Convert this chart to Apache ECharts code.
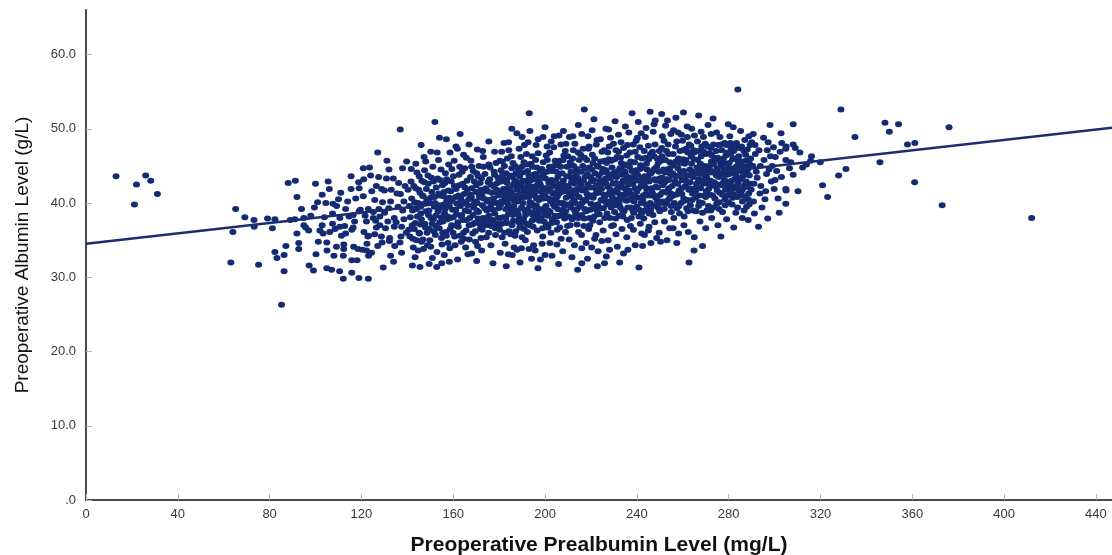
<!DOCTYPE html>
<html>
<head>
<meta charset="utf-8">
<title>Preoperative Prealbumin vs Albumin</title>
<script src="https://cdn.jsdelivr.net/npm/echarts@6/dist/echarts.min.js"></script>
<style>
  html, body { margin: 0; padding: 0; background: #ffffff; }
  #chart { width: 1112px; height: 555px; }
</style>
</head>
<body>
<div id="chart"></div>
<script>
// Axis tick labels
const xTickLabels = ['0', '40', '80', '120', '160', '200', '240', '280', '320', '360', '400', '440'];
const yTickLabels = ['.0', '10.0', '20.0', '30.0', '40.0', '50.0', '60.0'];

// Patients: [prealbumin mg/L, albumin g/L]
const lowPrealbumin = [
  [13.1,43.6],[22.0,42.5],[21.1,39.8],[26.0,43.7],[28.2,43.0],[31.1,41.2],[63.1,32.0],[64.0,36.1],
  [65.2,39.2],[69.2,38.1],[73.2,37.7],[73.3,36.8],[75.2,31.7],[79.1,37.9],[81.2,36.6],[82.3,37.8],
  [82.3,33.4],[83.2,32.6],[85.2,26.3],[86.3,33.0],[86.3,30.8],[87.1,34.2],[88.1,42.7],[91.2,43.0],
  [89.0,37.7],[91.0,37.8],[91.9,40.8],[91.9,35.9],[92.7,34.6],[92.7,33.8]
];

const prealbumin95to140 = [
  [93.9,39.2],[94.9,38.0],[97.9,38.3],[94.9,37.0],[95.7,36.7],[102.9,41.1],[100.9,40.1],[107.6,39.9],
  [109.2,39.6],[114.0,40.2],[120.8,40.9],[125.8,40.4],[132.7,40.2],[138.5,40.2],[113.1,39.2],[119.5,39.1],
  [123.0,39.2],[127.6,39.2],[103.9,38.1],[107.4,38.6],[110.6,38.0],[116.4,38.4],[119.0,38.9],[125.2,38.8],
  [128.0,38.2],[130.1,38.7],[134.3,38.0],[138.5,37.8],[102.9,37.0],[101.9,36.3],[107.4,37.2],[110.6,36.8],
  [112.7,36.9],[116.4,36.7],[122.2,37.5],[125.1,38.0],[128.0,37.0],[130.5,36.6],[134.3,36.8],[137.5,36.8],
  [103.3,35.9],[106.2,36.1],[111.3,35.6],[113.1,35.9],[115.8,36.4],[121.1,36.1],[122.8,35.5],[125.8,35.8],
  [128.7,35.5],[132.3,35.3],[137.2,35.5],[101.2,34.8],[104.9,34.7],[109.1,34.1],[112.3,34.4],[112.3,33.8],
  [116.6,34.1],[118.5,33.8],[120.4,33.7],[122.4,34.5],[123.1,35.6],[124.4,33.3],[127.1,34.2],[129.0,34.7],
  [132.2,34.9],[134.5,34.2],[136.8,34.7],[100.2,33.1],[108.0,32.9],[112.1,32.9],[115.8,32.3],[118.1,32.3],
  [122.2,33.6],[123.1,32.9],[132.7,32.9],[97.2,31.6],[99.1,30.9],[104.9,31.2],[107.0,31.0],[115.8,30.6],
  [112.1,29.8],[118.9,29.9],[123.0,29.8],[136.9,49.9],[127.1,46.8],[131.1,45.7],[120.8,44.7],[137.9,44.7],
  [118.8,42.8],[121.0,43.2],[124.0,43.7],[127.5,43.5],[130.9,43.3],[133.9,43.3],[136.2,42.7],[128.8,41.9],
  [130.0,41.7],[99.5,39.4],[104.5,40.0],[106.0,41.9],[111.0,41.4],[115.5,41.9],[117.5,40.6],[119.0,42.0],
  [124.5,41.6],[126.5,42.3],[133.0,41.8],[135.5,41.3],[139.0,42.3],[136.0,39.5],[131.5,37.5],[117.0,37.5],
  [108.5,36.5],[126.5,36.7],[139.5,36.0],[110.0,40.5],[123.5,44.8],[132.0,44.5],[139.7,45.6],[115.5,43.6],
  [105.5,42.9],[100.0,42.6],[97.0,36.3],[134.0,32.1],[129.5,31.3],[137.5,33.3],[105.0,33.6],[110.5,30.8],
  [121.6,38.3],[129.2,40.1],[135.1,37.4],[138.0,39.0],[126.2,37.6],[114.6,38.2],[131.9,39.3],[137.0,41.2]
];

const prealbumin140to180 = [
  [140.6,36.4],[141.3,38.1],[141.9,40.6],[142.4,35.2],[142.8,42.3],[143.5,37.3],[143.9,39.2],[144.2,44.1],
  [144.7,33.6],[145.1,36.0],[145.5,41.4],[145.9,38.6],[146.3,43.0],[146.8,35.1],[147.2,39.9],[147.6,37.2],
  [148.0,45.6],[148.3,41.9],[148.8,34.3],[149.2,38.4],[149.6,36.5],[150.1,40.7],[150.5,43.4],[150.9,32.6],
  [151.3,37.8],[151.8,39.5],[152.2,35.7],[152.6,42.1],[153.0,46.8],[153.4,38.9],[153.9,36.6],[154.3,41.0],
  [154.7,44.5],[155.1,34.4],[155.5,37.5],[155.9,39.8],[156.4,42.7],[156.8,36.1],[157.2,40.3],[157.6,38.2],
  [158.0,45.2],[158.5,33.9],[158.9,41.6],[159.3,37.0],[159.7,39.1],[160.1,43.6],[160.6,35.5],[161.0,40.8],
  [161.4,38.5],[161.8,47.3],[162.2,36.8],[162.6,42.4],[163.1,39.6],[163.5,34.8],[163.9,44.2],[164.3,37.7],
  [164.7,41.2],[165.2,39.0],[165.6,36.3],[166.0,43.0],[166.4,33.1],[166.8,40.5],[167.2,38.0],[167.7,45.7],
  [168.1,42.0],[168.5,35.9],[168.9,39.4],[169.3,37.3],[169.8,41.5],[170.2,44.0],[170.6,34.2],[171.0,38.8],
  [171.4,40.9],[171.9,36.6],[172.3,43.3],[172.7,39.7],[173.1,46.2],[173.5,37.6],[173.9,41.9],[174.4,35.4],
  [174.8,40.2],[175.2,42.8],[175.6,38.3],[176.0,44.8],[176.5,36.9],[176.9,40.0],[177.3,31.9],[177.7,42.2],
  [178.1,38.6],[178.6,45.4],[179.0,37.2],[179.4,41.2],[179.8,39.3],
  [140.9,39.6],[141.6,42.9],[142.1,37.0],[142.6,34.0],[143.2,40.1],[143.7,45.3],[144.4,38.2],[144.9,41.8],
  [145.3,35.9],[145.8,39.5],[146.1,37.8],[146.6,41.0],[147.0,33.8],[147.4,42.8],[147.9,36.7],[148.5,40.4],
  [149.0,43.7],[149.4,39.0],[149.8,35.0],[150.3,38.0],[150.7,41.5],[151.1,44.9],[151.6,36.2],[152.0,40.0],
  [152.4,38.3],[152.9,33.4],[153.2,43.3],[153.7,41.3],[154.1,37.4],[154.5,39.4],[154.9,35.3],[155.3,42.4],
  [155.7,40.9],[156.2,38.6],[156.6,44.0],[157.0,35.6],[157.4,37.8],[157.9,41.7],[158.3,39.6],[158.7,36.5],
  [159.1,42.9],[159.5,40.3],[160.0,38.1],[160.4,45.7],[160.8,34.3],[161.2,41.9],[161.6,39.9],[162.0,37.4],
  [162.5,43.8],[162.9,35.6],[163.3,40.6],[163.7,38.4],[164.1,42.6],[164.5,36.0],[165.0,44.7],[165.4,40.1],
  [165.8,37.7],[166.2,41.8],[166.6,38.9],[167.0,35.1],[167.5,43.5],[167.9,40.8],[168.3,37.1],[168.7,44.3],
  [169.1,39.9],[169.6,36.2],[170.0,42.4],[170.4,40.0],[170.8,37.9],[171.2,45.0],[171.7,42.7],[172.1,35.3],
  [172.5,41.2],[172.9,38.0],[173.3,40.6],[173.8,43.9],[174.2,37.0],[174.6,39.0],[175.0,41.6],[175.4,36.0],
  [175.9,43.2],[176.3,39.5],[176.7,41.4],[177.1,37.7],[177.5,40.6],[178.0,43.8],[178.4,35.7],[178.8,40.0],
  [179.2,42.7],[179.6,38.0],
  [140.3,41.8],[141.1,35.5],[141.7,44.6],[142.3,39.0],[143.0,36.5],[143.6,42.0],[144.0,35.0],[144.6,40.0],
  [145.2,43.6],[145.7,37.1],[146.2,34.8],[146.9,40.9],[147.5,44.4],[148.1,38.9],[148.6,36.0],[149.1,42.6],
  [149.7,40.0],[150.2,34.1],[150.8,37.2],[151.4,42.9],[151.9,40.8],[152.5,36.9],[153.1,39.7],[153.6,45.8],
  [154.2,43.1],[154.8,38.1],[155.4,36.0],[156.0,41.5],[156.5,39.2],[157.1,43.2],[157.7,34.6],[158.2,40.7],
  [158.8,38.0],[159.4,44.6],[159.9,36.0],[160.5,42.3],[161.1,39.1],[161.7,36.9],[162.3,41.0],[162.8,44.9],
  [163.4,38.2],[164.0,40.0],[164.6,35.2],[165.1,42.1],[165.7,46.1],[166.3,39.7],[166.9,37.0],[167.4,41.1],
  [168.0,44.9],[168.6,38.4],[169.2,42.9],[169.7,34.8],[170.3,39.0],[170.9,43.6],[171.5,37.2],[172.0,41.8],
  [172.6,36.4],[173.2,44.9],[173.7,39.3],[174.3,42.0],[174.9,38.1],[175.5,45.2],[176.1,37.4],[176.6,42.5],
  [177.2,39.1],[177.8,44.2],[178.3,36.6],[178.9,41.8],[179.5,43.4],[179.9,36.8],
  [143.4,32.7],[149.5,31.8],[156.1,33.0],[161.9,32.4],[165.4,34.0],[172.4,33.6],[176.4,34.3],[158.6,46.8],
  [166.9,47.9],[172.8,47.0],[178.0,46.9],[147.3,46.2],[154.0,48.8],[163.0,49.3],
  [142.2,31.6],[152.8,31.4],[155.0,31.9],[158.3,32.1],[170.2,32.2],[168.0,33.2],[152.0,50.9],[161.2,47.6],
  [146.0,47.8],[150.2,46.9],[157.0,48.6],[164.5,46.5],[170.5,47.2],[175.5,48.3],[145.5,31.4]
];

const prealbumin180to215 = [
  [180.2,36.4],[180.6,39.8],[181.0,42.9],[181.4,45.6],[181.8,38.1],[182.2,41.2],[182.6,34.5],[183.0,44.0],
  [183.4,37.3],[183.8,40.5],[184.2,47.1],[184.6,42.0],[185.0,35.8],[185.4,39.0],[185.8,43.5],[186.2,37.6],
  [186.6,41.0],[187.0,45.0],[187.4,38.6],[187.8,33.7],[188.2,40.2],[188.6,42.8],[189.0,36.7],[189.4,46.2],
  [189.8,39.4],[190.2,44.1],[190.6,37.8],[191.0,41.6],[191.4,35.0],[191.8,43.0],[192.2,39.1],[192.6,48.2],
  [193.0,40.8],[193.4,37.0],[193.8,45.3],[194.2,42.2],[194.6,38.4],[195.0,34.3],[195.4,41.0],[195.8,43.9],
  [196.2,39.7],[196.6,36.3],[197.0,46.7],[197.4,40.4],[197.8,42.6],[198.2,38.0],[198.6,44.6],[199.0,35.5],
  [199.4,41.8],[199.8,39.3],[200.2,43.3],[200.6,37.1],[201.0,45.8],[201.4,40.6],[201.8,42.0],[202.2,38.8],
  [202.6,36.0],[203.0,44.3],[203.4,41.3],[203.8,47.5],[204.2,39.5],[204.6,43.0],[205.0,37.4],[205.4,40.9],
  [205.8,45.1],[206.2,38.3],[206.6,42.5],[207.0,35.2],[207.4,44.0],[207.8,40.0],[208.2,46.4],[208.6,41.6],
  [209.0,38.9],[209.4,43.6],[209.8,36.9],[210.2,42.1],[210.6,39.8],[211.0,45.5],[211.4,41.0],[211.8,37.8],
  [212.2,43.4],[212.6,40.4],[213.0,48.0],[213.4,38.6],[213.8,44.6],[214.2,41.9],[214.6,36.1],[215.0,42.9],
  [180.4,41.5],[180.8,44.4],[181.2,37.2],[181.6,40.1],[182.0,43.1],[182.4,36.0],[182.8,39.2],[183.2,41.9],
  [183.6,46.0],[184.0,38.5],[184.4,40.6],[184.8,43.7],[185.2,41.4],[185.6,37.0],[186.0,45.4],[186.4,39.6],
  [186.8,43.0],[187.2,36.2],[187.6,41.8],[188.0,39.0],[188.4,44.6],[188.8,38.0],[189.2,41.3],[189.6,42.4],
  [190.0,35.4],[190.4,40.0],[190.8,45.5],[191.2,39.0],[191.6,42.0],[192.0,37.2],[192.4,44.3],[192.8,41.1],
  [193.2,38.8],[193.6,43.0],[194.0,40.0],[194.4,46.3],[194.8,36.8],[195.2,43.2],[195.6,39.5],[196.0,41.7],
  [196.4,44.8],[196.8,38.3],[197.2,42.9],[197.6,37.6],[198.0,40.7],[198.4,42.2],[198.8,39.0],[199.2,45.5],
  [199.6,37.5],[200.0,41.0],[200.4,39.6],[200.8,44.2],[201.2,38.3],[201.6,42.7],[202.0,46.8],[202.4,40.2],
  [202.8,43.1],[203.2,37.8],[203.6,39.8],[204.0,42.3],[204.4,45.7],[204.8,40.5],[205.2,38.2],[205.6,43.5],
  [206.0,41.2],[206.4,36.7],[206.8,44.9],[207.2,41.5],[207.6,38.5],[208.0,43.0],[208.4,39.6],[208.8,47.0],
  [209.2,40.7],[209.6,42.3],[210.0,38.2],[210.4,45.0],[210.8,43.5],[211.2,39.4],[211.6,41.6],[212.0,46.0],
  [212.4,38.1],[212.8,42.6],[213.2,40.0],[213.6,44.0],[214.0,39.2],[214.4,46.8],[214.8,40.8],
  [180.5,38.0],[181.5,43.8],[182.5,40.6],[183.5,42.7],[184.5,39.4],[185.5,44.7],[186.5,40.3],[187.5,42.3],
  [188.5,37.4],[189.5,40.7],[190.5,43.0],[191.5,38.4],[192.5,42.6],[193.5,40.1],[194.5,44.9],[195.5,37.8],
  [196.5,42.4],[197.5,39.2],[198.5,43.4],[199.5,40.6],[200.5,46.4],[201.5,39.0],[202.5,44.7],[203.5,40.5],
  [204.5,41.4],[205.5,39.2],[206.5,45.7],[207.5,42.7],[208.5,37.9],[209.5,44.9],[210.5,40.9],[211.5,42.8],
  [212.5,45.0],[213.5,41.2],[214.5,38.0],
  [180.3,45.7],[180.9,40.2],[181.3,35.4],[181.9,41.9],[182.3,45.0],[182.9,37.9],[183.3,43.2],[183.9,39.8],
  [184.3,36.2],[184.9,41.2],[185.3,46.3],[185.9,38.4],[186.3,42.5],[186.9,35.6],[187.3,44.0],[187.9,40.8],
  [188.3,38.5],[188.9,43.6],[189.3,37.2],[189.9,44.9],[190.3,42.0],[190.9,36.5],[191.3,40.8],[191.9,46.6],
  [192.3,36.1],[192.9,43.7],[193.3,39.6],[193.9,41.7],[194.3,37.6],[194.9,43.8],[195.3,38.8],[195.9,45.8],
  [196.3,40.6],[196.9,43.5],[197.3,38.8],[197.9,44.3],[198.3,41.5],[198.9,36.6],[199.3,43.9],[199.9,38.4],
  [200.3,42.0],[200.9,47.6],[201.3,36.7],[201.9,44.9],[202.3,41.6],[202.9,37.3],[203.3,42.8],[203.9,45.0],
  [204.3,38.3],[204.9,44.2],[205.3,36.4],[205.9,42.0],[206.3,40.0],[206.9,47.9],[207.3,39.0],[207.9,45.8],
  [208.3,42.2],[208.9,36.1],[209.3,39.8],[209.9,46.3],[210.3,41.4],[210.9,37.0],[211.3,44.2],[211.9,40.1],
  [212.3,47.1],[212.9,39.0],[213.3,42.9],[213.9,37.1],[214.3,43.4],[214.9,45.8],
  [181.1,46.9],[184.1,48.2],[188.7,47.3],[192.1,45.2],[196.1,47.8],[199.1,48.9],[202.7,48.3],[206.1,49.1],
  [209.1,48.0],[212.1,49.0],[185.7,33.0],[189.7,33.9],[194.1,32.5],[198.7,34.5],[202.1,34.6],[207.7,33.5],
  [211.7,32.7],[183.1,31.5],[196.9,31.2],[205.9,31.8],
  [193.1,52.1],[193.4,49.7],[190.0,48.9],[191.0,47.8],[182.1,48.1],[200.0,50.2],[184.0,33.1],[189.1,32.0],
  [200.0,33.0],[186.5,34.0],[195.7,33.6],[205.2,34.4],[210.5,35.1],[198.0,32.4],[180.5,33.3],[204.0,49.0],
  [208.0,49.7],[185.5,50.0],[197.0,48.6],[210.6,48.9],[214.5,50.5],[187.7,49.4],[203.0,32.9],[212.8,34.3],
  [193.0,33.8]
];

const prealbumin215to255 = [
  [215.4,39.6],[215.8,44.2],[216.2,41.7],[216.6,47.3],[217.0,37.9],[217.4,43.5],[217.8,40.3],[218.2,45.8],
  [218.6,42.5],[219.0,36.5],[219.4,44.8],[219.8,39.1],[220.2,42.9],[220.6,46.5],[221.0,40.7],[221.4,38.2],
  [221.8,44.0],[222.2,41.3],[222.6,48.5],[223.0,39.8],[223.4,43.7],[223.8,37.4],[224.2,45.6],[224.6,41.9],
  [225.0,43.0],[225.4,39.3],[225.8,47.1],[226.2,40.9],[226.6,44.4],[227.0,38.6],[227.4,42.2],[227.8,45.9],
  [228.2,40.1],[228.6,43.3],[229.0,36.9],[229.4,41.5],[229.8,48.0],[230.2,44.1],[230.6,39.7],[231.0,42.7],
  [231.4,46.2],[231.8,40.5],[232.2,38.3],[232.6,44.7],[233.0,41.1],[233.4,43.8],[233.8,39.0],[234.2,47.4],
  [234.6,42.0],[235.0,45.2],[235.4,40.3],[235.8,37.7],[236.2,43.4],[236.6,41.7],[237.0,46.8],[237.4,39.4],
  [237.8,44.3],[238.2,42.6],[238.6,38.7],[239.0,45.5],[239.4,40.8],[239.8,43.1],[240.2,48.8],[240.6,41.9],
  [241.0,39.1],[241.4,44.6],[241.8,42.3],[242.2,46.0],[242.6,40.4],[243.0,37.9],[243.4,43.6],[243.8,41.2],
  [244.2,45.3],[244.6,39.6],[245.0,47.7],[245.4,42.9],[245.8,40.0],[246.2,44.0],[246.6,41.5],[247.0,38.4],
  [247.4,46.3],[247.8,43.2],[248.2,40.7],[248.6,44.9],[249.0,42.1],[249.4,39.3],[249.8,47.0],[250.2,41.1],
  [250.6,45.7],[251.0,43.4],[251.4,40.2],[251.8,48.4],[252.2,42.8],[252.6,39.9],[253.0,44.5],[253.4,41.7],
  [253.8,46.6],[254.2,40.6],[254.6,43.9],[255.0,38.8],
  [215.6,42.4],[216.0,38.4],[216.4,45.0],[216.8,40.4],[217.2,46.1],[217.6,41.9],[218.0,38.9],[218.4,43.9],
  [218.8,40.8],[219.2,47.6],[219.6,42.1],[220.0,39.9],[220.4,44.5],[220.8,37.6],[221.2,43.1],[221.6,46.0],
  [222.0,39.2],[222.4,42.4],[222.8,45.0],[223.2,41.4],[223.6,38.5],[224.0,43.0],[224.4,40.4],[224.8,46.9],
  [225.2,44.6],[225.6,41.1],[226.0,38.0],[226.4,42.7],[226.8,45.4],[227.2,40.2],[227.6,43.9],[228.0,47.6],
  [228.4,41.8],[228.8,39.4],[229.2,44.8],[229.6,42.6],[230.0,40.2],[230.4,45.9],[230.8,37.9],[231.2,43.5],
  [231.6,41.4],[232.0,46.9],[232.4,42.1],[232.8,39.4],[233.2,45.4],[233.6,40.6],[234.0,43.0],[234.4,38.9],
  [234.8,44.2],[235.2,41.8],[235.6,46.4],[236.0,39.4],[236.4,42.5],[236.8,44.9],[237.2,41.2],[237.6,38.0],
  [238.0,43.5],[238.4,47.9],[238.8,40.2],[239.2,42.0],[239.6,44.4],[240.0,39.5],[240.4,46.2],[240.8,43.0],
  [241.2,40.7],[241.6,45.1],[242.0,38.6],[242.4,43.4],[242.8,41.0],[243.2,47.0],[243.6,42.2],[244.0,39.8],
  [244.4,44.5],[244.8,41.0],[245.2,45.9],[245.6,43.9],[246.0,39.0],[246.4,42.0],[246.8,46.9],[247.2,41.1],
  [247.6,44.6],[248.0,39.7],[248.4,43.0],[248.8,46.0],[249.2,40.9],[249.6,44.2],[250.0,38.9],[250.4,42.9],
  [250.8,47.4],[251.2,41.5],[251.6,44.5],[252.0,40.0],[252.4,45.8],[252.8,43.2],[253.2,41.4],[253.6,47.9],
  [254.0,42.0],[254.4,44.7],[254.8,41.3],
  [215.5,46.5],[216.1,40.0],[216.7,43.0],[217.3,39.2],[217.9,44.7],[218.3,41.2],[218.9,47.3],[219.3,38.0],
  [219.9,43.5],[220.3,41.0],[220.9,45.4],[221.3,39.7],[221.9,42.0],[222.3,47.9],[222.9,38.7],[223.3,44.9],
  [223.9,42.6],[224.3,39.3],[224.9,44.1],[225.5,40.3],[225.9,45.7],[226.3,43.3],[226.9,39.8],[227.3,46.8],
  [227.9,41.3],[228.3,38.0],[228.9,45.7],[229.3,40.8],[229.9,43.8],[230.3,38.8],[230.9,47.1],[231.3,41.9],
  [231.9,44.3],[232.3,40.0],[232.9,46.1],[233.3,42.6],[233.9,38.2],[234.3,45.0],[234.9,41.1],[235.3,43.7],
  [235.9,47.8],[236.3,40.4],[236.9,43.0],[237.3,45.6],[237.9,40.9],[238.3,39.0],[238.9,44.2],[239.3,46.9],
  [239.9,41.5],[240.3,43.8],[240.9,38.2],[241.3,47.5],[241.9,40.0],[242.3,44.8],[242.9,42.6],[243.3,39.0],
  [243.9,46.1],[244.3,41.9],[244.9,43.3],[245.3,38.6],[245.9,46.6],[246.3,41.0],[246.9,44.3],[247.3,39.6],
  [247.9,47.9],[248.3,42.2],[248.9,40.3],[249.3,45.4],[249.9,43.3],[250.3,40.0],[250.9,46.3],[251.3,42.4],
  [251.9,39.2],[252.3,44.1],[252.9,47.0],[253.3,40.3],[253.9,43.1],[254.3,45.5],[254.9,39.6],
  [218.7,49.0],[224.1,48.6],[227.7,49.9],[233.1,48.2],[236.5,49.5],[239.7,48.4],[243.7,48.9],[247.1,49.6],
  [251.1,49.0],[253.3,51.1],[221.3,51.3],[240.6,50.9],[247.5,50.6],
  [216.9,36.9],[220.3,34.0],[224.7,34.9],[228.1,33.7],[230.9,35.8],[236.1,33.7],[238.5,36.4],[242.1,35.9],
  [248.6,35.3],[253.1,35.0],[232.5,32.0],[225.9,31.9],
  [215.9,35.7],[217.9,34.6],[219.5,37.0],[221.6,35.2],[223.1,33.5],[225.3,36.3],[227.5,35.0],[229.8,37.0],
  [231.5,34.1],[233.5,36.5],[235.6,35.4],[237.2,36.9],[239.3,34.3],[241.5,37.2],[243.3,35.7],[245.3,36.8],
  [247.8,37.4],[249.7,36.0],[252.0,37.5],[254.3,36.6],[218.5,32.5],[226.7,32.8],[234.2,33.2],[246.1,34.6],
  [222.2,35.7],[216.0,31.9],[214.2,31.0],[216.0,33.9],[222.8,31.5],
  [217.1,52.6],[216.0,49.3],[237.9,52.1],[245.8,52.3],[250.8,52.0],[248.0,51.1],[241.9,49.4],[254.8,49.3],
  [240.9,31.3],[245.0,36.3],[220.5,49.8],[226.5,50.0],[232.0,49.2],[228.5,48.8],[235.0,50.3],[244.0,50.1],
  [252.5,50.4],[230.5,51.0],[242.5,34.2],[250.3,34.8]
];

const prealbumin255to290 = [
  [255.4,42.3],[255.9,45.1],[256.3,40.0],[256.8,47.6],[257.2,43.6],[257.7,41.2],[258.1,46.0],[258.6,38.6],
  [259.0,44.2],[259.5,42.0],[259.9,48.4],[260.4,40.6],[260.8,45.3],[261.3,43.0],[261.7,39.3],[262.2,46.8],
  [262.6,41.8],[263.1,44.5],[263.5,47.7],[264.0,40.4],[264.4,43.5],[264.9,45.9],[265.3,42.0],[265.8,38.9],
  [266.2,44.8],[266.7,47.0],[267.1,41.0],[267.6,43.9],[268.0,46.3],[268.5,40.0],[268.9,42.6],[269.4,45.0],
  [269.8,48.0],[270.3,41.6],[270.7,44.0],[271.2,39.6],[271.6,46.7],[272.1,43.0],[272.5,45.6],[273.0,41.0],
  [273.4,47.9],[273.9,44.2],[274.3,42.2],[274.8,39.9],[275.2,46.1],[275.7,43.5],[276.1,41.4],[276.6,45.0],
  [277.0,47.1],[277.5,42.7],[277.9,44.6],[278.4,40.5],[278.8,46.4],[279.3,43.8],[279.7,41.0],[280.2,45.4],
  [280.6,42.8],[281.1,47.4],[281.5,39.8],[282.0,44.7],[282.4,42.0],[282.9,46.0],[283.3,43.6],[283.8,40.8],
  [284.2,45.6],[284.7,41.6],[285.1,43.3],[285.6,47.6],[286.0,40.2],[286.5,44.3],[286.9,42.4],[287.4,46.5],
  [287.8,39.5],[288.3,43.9],[288.7,41.3],[289.2,45.2],[289.6,42.6],
  [255.6,44.0],[256.1,38.0],[256.6,42.9],[257.0,45.6],[257.5,39.3],[257.9,44.7],[258.4,41.7],[258.8,47.0],
  [259.3,40.0],[259.7,43.1],[260.2,45.9],[260.6,38.2],[261.1,42.3],[261.5,47.3],[262.0,40.4],[262.4,43.7],
  [262.9,42.0],[263.3,39.7],[263.8,45.3],[264.2,41.3],[264.7,47.1],[265.1,43.9],[265.6,40.7],[266.0,42.6],
  [266.5,45.8],[266.9,39.6],[267.4,44.5],[267.8,42.0],[268.3,47.6],[268.7,44.0],[269.2,41.0],[269.6,43.3],
  [270.1,46.6],[270.5,39.0],[271.0,42.6],[271.4,45.0],[271.9,41.1],[272.3,47.4],[272.8,44.1],[273.2,39.4],
  [273.7,42.8],[274.1,45.9],[274.6,43.7],[275.0,41.7],[275.5,47.8],[275.9,40.1],[276.4,44.0],[276.8,42.4],
  [277.3,38.8],[277.7,46.0],[278.2,43.1],[278.6,41.8],[279.1,47.8],[279.5,44.4],[280.0,40.1],[280.4,43.9],
  [280.9,46.6],[281.3,42.3],[281.8,40.7],[282.2,47.0],[282.7,43.2],[283.1,38.7],[283.6,45.0],[284.0,42.6],
  [284.5,47.4],[284.9,44.3],[285.4,41.0],[285.8,45.6],[286.3,42.0],[286.7,39.0],[287.2,44.9],[287.6,42.9],
  [288.1,47.2],[288.5,40.5],[289.0,43.7],[289.5,46.0],
  [255.3,40.9],[255.8,46.6],[256.4,43.7],[256.9,41.1],[257.4,48.3],[257.8,42.6],[258.3,39.6],[258.7,45.4],
  [259.2,43.6],[259.6,41.2],[260.1,47.1],[260.5,44.3],[261.0,40.3],[261.4,45.8],[261.9,43.7],[262.3,38.9],
  [262.8,47.9],[263.2,42.8],[263.7,46.3],[264.1,44.2],[264.6,39.0],[265.0,46.8],[265.5,41.6],[265.9,44.0],
  [266.4,48.3],[266.8,43.2],[267.3,40.1],[267.7,45.3],[268.2,42.9],[268.6,38.7],[269.1,46.9],[269.5,44.6],
  [270.0,40.8],[270.4,43.4],[270.9,47.6],[271.3,41.9],[271.8,44.5],[272.2,39.0],[272.7,46.4],[273.1,42.4],
  [273.6,45.2],[274.0,40.6],[274.5,47.0],[274.9,44.6],[275.4,42.5],[275.8,39.2],[276.3,45.6],[276.7,47.9],
  [277.2,41.1],[277.6,43.8],[278.1,45.4],[278.5,39.7],[279.0,42.3],[279.4,46.8],[279.9,44.8],[280.3,41.7],
  [280.8,48.1],[281.2,43.0],[281.7,45.9],[282.1,41.2],[282.6,44.0],[283.0,47.7],[283.5,42.2],[283.9,39.4],
  [284.4,46.3],[284.8,43.1],[285.3,45.0],[285.7,41.7],[286.2,43.6],[286.6,47.0],[287.1,40.9],[287.5,45.7],
  [288.0,42.2],[288.4,44.6],[288.9,39.8],[289.3,47.8],[289.8,41.8],
  [258.0,49.5],[263.9,50.0],[268.0,49.6],[272.4,49.3],[276.2,48.9],[279.8,50.6],[285.2,49.7],[288.8,49.0],
  [260.3,52.2],[273.2,51.4],
  [255.8,36.6],[258.2,35.9],[260.5,37.0],[262.4,36.1],[265.0,35.4],[262.7,32.0],[267.5,37.5],[270.0,36.6],
  [272.6,38.0],[275.3,37.0],[279.1,37.8],[282.2,36.7],[285.9,38.0],[288.5,37.7],[257.4,34.6],[268.6,34.2],
  [276.6,35.5],[264.9,33.6],
  [284.0,55.3],[257.0,51.5],[266.9,51.8],[261.9,50.3],[271.0,50.5],[282.0,50.2],[259.4,49.2],[265.1,49.1],
  [269.0,48.9],[278.3,48.1],[283.4,48.1],[287.0,48.5],[256.0,49.8],[274.7,49.5],[262.0,48.9],[280.5,49.0]
];

const highPrealbumin = [
  [290.7,49.3],[290.0,48.2],[298.0,50.5],[308.1,50.6],[297.2,48.2],[303.1,48.1],[305.0,47.6],[308.1,47.9],
  [309.0,47.4],[304.9,47.3],[293.2,47.1],[289.3,45.9],[291.6,46.6],[295.4,45.8],[300.3,46.2],[304.9,45.8],
  [316.1,46.3],[315.7,45.7],[313.9,45.2],[312.2,44.8],[319.9,45.5],[300.2,43.1],[305.0,41.7],[308.1,43.8],
  [303.0,43.5],[293.6,41.3],[295.8,40.5],[304.9,41.9],[310.2,41.6],[320.9,42.4],[323.1,40.8],[304.9,39.9],
  [292.0,44.2],[296.5,43.9],[291.0,42.6],[298.6,42.9],[294.5,39.4],[301.5,40.6],[299.0,45.0],[307.1,45.5],
  [311.0,46.8],[302.0,38.7],[290.8,40.2],[296.8,47.1],
  [291.5,47.8],[293.8,45.0],[295.2,48.8],[297.6,44.5],[299.5,47.5],[292.4,43.4],[294.0,42.3],[296.1,41.6],
  [298.2,46.3],[300.9,44.3],[302.4,46.9],[291.2,38.6],[293.0,36.8],[297.0,37.9],[290.5,45.0],[299.8,41.9],
  [306.5,44.7],[302.8,49.4],
  [328.9,52.6],[348.1,50.8],[354.0,50.6],[350.0,49.6],
  [376.0,50.2],[335.0,48.9],[357.9,47.9],[361.1,48.1],[345.9,45.5],[331.1,44.6],[327.9,43.7],[361.0,42.8],
  [373.0,39.7],[412.0,38.0]
];

// Least-squares fit line endpoints (albumin on prealbumin)
const fitLine = [[0, 34.5], [447, 50.15]];

const patients = [].concat(
  lowPrealbumin, prealbumin95to140, prealbumin140to180,
  prealbumin180to215, prealbumin215to255, prealbumin255to290, highPrealbumin
);

const xTickValues = xTickLabels.map(Number);
const yTickValues = yTickLabels.map(parseFloat);

const chart = echarts.init(document.getElementById('chart'), null, { renderer: 'canvas' });
const fontFamily = "'Liberation Sans', Arial, sans-serif";

chart.setOption({
  animation: false,
  backgroundColor: '#ffffff',
  grid: { left: 86, right: 0, top: 10, bottom: 55, containLabel: false, outerBoundsMode: 'none' },
  xAxis: {
    type: 'value',
    min: 0,
    max: 447,
    name: 'Preoperative Prealbumin Level (mg/L)',
    nameLocation: 'middle',
    nameGap: 35,
    nameTextStyle: { fontFamily, fontSize: 21, fontWeight: 'bold', color: '#111111' },
    axisLine: { show: true, lineStyle: { color: '#4a4a4a', width: 2 } },
    axisTick: {
      show: true, inside: true, length: 6, customValues: xTickValues,
      lineStyle: { color: '#b5b5b5', width: 1 }
    },
    axisLabel: {
      fontFamily, fontSize: 13, color: '#3a3a3a', margin: 8,
      customValues: xTickValues,
      formatter: v => xTickLabels[xTickValues.indexOf(v)]
    },
    splitLine: { show: false }
  },
  yAxis: {
    type: 'value',
    min: 0,
    max: 66,
    name: 'Preoperative Albumin Level (g/L)',
    nameLocation: 'middle',
    nameGap: 54,
    nameRotate: 90,
    nameTextStyle: { fontFamily, fontSize: 19, color: '#111111' },
    axisLine: { show: true, lineStyle: { color: '#4a4a4a', width: 2 } },
    axisTick: {
      show: true, inside: true, length: 6, customValues: yTickValues,
      lineStyle: { color: '#b5b5b5', width: 1 }
    },
    axisLabel: {
      fontFamily, fontSize: 13, color: '#3a3a3a', margin: 10,
      customValues: yTickValues,
      formatter: v => yTickLabels[yTickValues.indexOf(v)]
    },
    splitLine: { show: false }
  },
  series: [
    {
      type: 'scatter',
      data: patients,
      symbol: 'circle',
      symbolSize: [7, 6],
      itemStyle: { color: '#142a72', opacity: 1 },
      z: 2
    },
    {
      type: 'line',
      data: fitLine,
      showSymbol: false,
      symbol: 'none',
      lineStyle: { color: '#1b2d6e', width: 2.5 },
      z: 3
    }
  ]
});
</script>
</body>
</html>
